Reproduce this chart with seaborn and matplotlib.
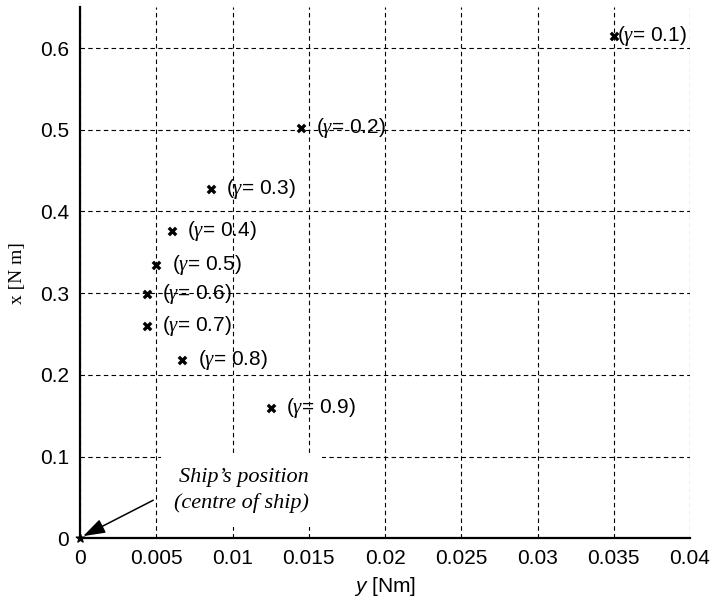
import numpy as np
import pandas as pd
import matplotlib
matplotlib.use("Agg")
import matplotlib.pyplot as plt
import seaborn as sns

# --- Data ---
gamma = [0.1, 0.2, 0.3, 0.4, 0.5, 0.6, 0.7, 0.8, 0.9]
y_nm = [0.0350, 0.0145, 0.0086, 0.0060, 0.0050, 0.0044, 0.0044, 0.0067, 0.0125]
x_nm = [0.615, 0.502, 0.428, 0.376, 0.335, 0.299, 0.260, 0.218, 0.159]
label_offset = [2, 11, 11, 11, 11, 11, 11, 11, 11]  # points right of marker

x_ticks = [0, 0.005, 0.01, 0.015, 0.02, 0.025, 0.03, 0.035, 0.04]
x_tick_labels = ["0", "0.005", "0.01", "0.015", "0.02", "0.025", "0.03", "0.035", "0.04"]
y_ticks = [0, 0.1, 0.2, 0.3, 0.4, 0.5, 0.6]
y_tick_labels = ["0", "0.1", "0.2", "0.3", "0.4", "0.5", "0.6"]

sns.set_theme(style="white")
plt.rcParams["font.family"] = ["Liberation Sans", "DejaVu Sans"]
plt.rcParams["text.color"] = "black"
plt.rcParams["axes.labelcolor"] = "black"
plt.rcParams["mathtext.fontset"] = "custom"
plt.rcParams["mathtext.it"] = "Liberation Serif:italic"
plt.rcParams["mathtext.rm"] = "Liberation Sans"
plt.rcParams["mathtext.sf"] = "Liberation Sans:italic"

df = pd.DataFrame({"gamma": gamma, "y": y_nm, "x": x_nm})

fig, ax = plt.subplots(figsize=(7.15, 6.02), dpi=100)
fig.subplots_adjust(left=0.112, right=0.965, bottom=0.106, top=0.988)

sns.scatterplot(data=df, x="y", y="x", marker="x", s=28, color="black",
                linewidth=2.4, ax=ax, zorder=5, legend=False)

for g, yy, xx, off in zip(gamma, y_nm, x_nm, label_offset):
    ax.annotate(rf"($\gamma$= {g})", xy=(yy, xx), xytext=(off, 0),
                textcoords="offset points", ha="left", va="center",
                fontsize=15, color="black", zorder=6)

# ship's position at the origin
ax.scatter([0], [0], marker="*", s=40, color="black", zorder=6, clip_on=False)
ax.text(0.0150, 0.058, "Ship\u2019s position\n(centre of ship)",
        family="Liberation Serif", style="italic", fontsize=16, color="black",
        ha="right", va="center", linespacing=1.4, zorder=4,
        bbox=dict(boxstyle="square,pad=0.6", fc="white", ec="none"))
ax.annotate("", xy=(0.0002, 0.0025), xytext=(0.0048, 0.0465),
            arrowprops=dict(arrowstyle="-|>,head_length=0.9,head_width=0.3",
                            color="black", lw=1.1, mutation_scale=15,
                            shrinkA=0, shrinkB=0),
            zorder=6)

ax.set_xlim(0, 0.04)
ax.set_ylim(0, 0.65)
ax.set_xticks(x_ticks)
ax.set_xticklabels(x_tick_labels)
ax.set_yticks(y_ticks)
ax.set_yticklabels(y_tick_labels)
ax.tick_params(direction="in", length=6, width=1.2, labelsize=15, color="black",
               labelcolor="black")
ax.tick_params(axis="x", pad=8)
ax.tick_params(axis="y", pad=8)
ax.grid(True, linestyle=(0, (4, 3)), color="black", linewidth=0.8)
ax.set_axisbelow(True)

for side in ["top", "right"]:
    ax.spines[side].set_visible(False)
for side in ["left", "bottom"]:
    ax.spines[side].set_color("black")
    ax.spines[side].set_linewidth(1.6)

ax.set_xlabel(r"$\mathsf{y}$ [Nm]", fontsize=15, labelpad=5)
ax.set_ylabel("x [N m]", fontsize=14, family="Liberation Serif", labelpad=10)

fig.savefig("out.png", dpi=100, facecolor="white")
